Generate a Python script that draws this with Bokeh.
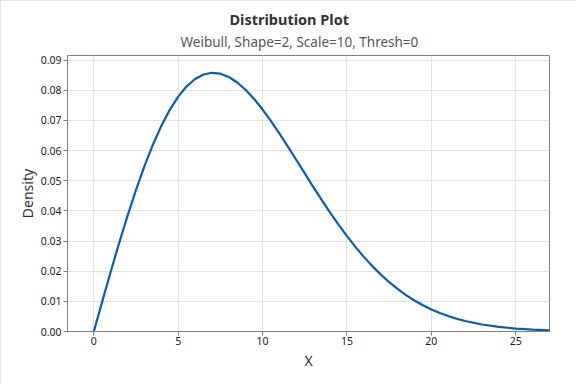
from bokeh.plotting import figure
from bokeh.models import Title, FixedTicker, PrintfTickFormatter, Range1d
from bokeh.embed import file_html
from bokeh.resources import INLINE

# Values
x_vals = [0, 0.5, 1, 1.5, 2, 2.5, 3, 3.5, 4, 4.5, 5, 5.5, 6, 6.5, 7, 7.5, 8, 8.5, 9, 9.5,
          10, 10.5, 11, 11.5, 12, 12.5, 13, 13.5, 14, 14.5, 15, 15.5, 16, 16.5, 17, 17.5,
          18, 18.5, 19, 19.5, 20, 20.5, 21, 21.5, 22, 23, 24, 25, 26, 27]
density = [0.0, 0.00998, 0.0198, 0.02933, 0.03843, 0.04697, 0.05484, 0.06193, 0.06817, 0.07350,
           0.07788, 0.08129, 0.08372, 0.08520, 0.08577, 0.08547, 0.08437, 0.08254, 0.08007, 0.07706,
           0.07358, 0.06973, 0.06560, 0.06129, 0.05686, 0.05240, 0.04797, 0.04364, 0.03944, 0.03542,
           0.03162, 0.02805, 0.02474, 0.02168, 0.01890, 0.01637, 0.01410, 0.01207, 0.01028, 0.00870,
           0.00733, 0.00613, 0.00511, 0.00423, 0.00348, 0.00232, 0.00151, 0.00097, 0.00060, 0.00037]
x_ticks = [0, 5, 10, 15, 20, 25]
y_ticks = [0.00, 0.01, 0.02, 0.03, 0.04, 0.05, 0.06, 0.07, 0.08, 0.09]
title_text = "Distribution Plot"
subtitle_text = "Weibull, Shape=2, Scale=10, Thresh=0"
x_label = "X"
y_label = "Density"

FONT = "Noto Sans"

p = figure(width=576, height=384, output_backend="svg", toolbar_location=None,
           x_range=Range1d(-1.56, 27.0), y_range=Range1d(0, 0.0915),
           min_border_left=67, min_border_right=27, min_border_top=55, min_border_bottom=53)
p.title.visible = False
p.styles = {"outline": "1px solid #dcdcdc", "outline-offset": "-1px"}

p.line(x_vals, density, line_color="#0a5cad", line_width=2.2)

sub = Title(text=subtitle_text, align="left", offset=113, text_font=FONT,
            text_font_size="13.5px", text_font_style="normal", text_color="#555555",
            standoff=10)
ttl = Title(text=title_text, align="left", offset=162, text_font=FONT,
            text_font_size="14.5px", text_font_style="bold", text_color="#333333",
            standoff=-6)
p.add_layout(sub, "above")
p.add_layout(ttl, "above")

p.outline_line_color = "#7f7f7f"
p.outline_line_width = 1
p.background_fill_color = "white"
p.border_fill_color = "white"

p.xaxis.ticker = FixedTicker(ticks=x_ticks)
p.yaxis.ticker = FixedTicker(ticks=y_ticks)
p.yaxis.formatter = PrintfTickFormatter(format="%.2f")

for ax in (p.xaxis, p.yaxis):
    ax.axis_line_color = "#7f7f7f"
    ax.major_tick_line_color = "#7f7f7f"
    ax.major_tick_out = 4
    ax.major_tick_in = 0
    ax.minor_tick_line_color = None
    ax.major_label_text_font = FONT
    ax.major_label_text_font_size = "10.5px"
    ax.major_label_text_color = "#1a1a1a"
    ax.axis_label_text_font = FONT
    ax.axis_label_text_font_size = "14px"
    ax.axis_label_text_font_style = "normal"
    ax.axis_label_text_color = "#333333"

p.xaxis.axis_label = x_label
p.yaxis.axis_label = y_label
p.xaxis.major_label_standoff = 1
p.yaxis.major_label_standoff = 2
p.xaxis.axis_label_standoff = 3
p.yaxis.axis_label_standoff = 1

p.xgrid.grid_line_color = "#e3e3e3"
p.ygrid.grid_line_color = "#e3e3e3"

open("out.html", "w").write(file_html(p, INLINE))
